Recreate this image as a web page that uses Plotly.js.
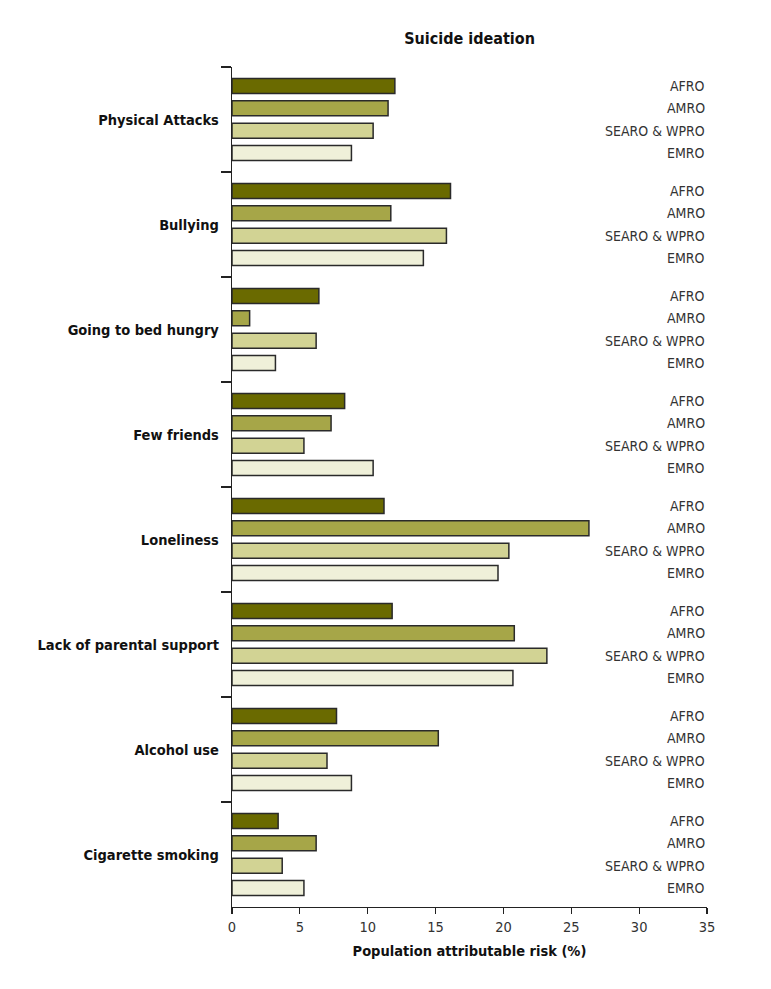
<!DOCTYPE html>
<html>
<head>
<meta charset="utf-8">
<script src="https://cdn.plot.ly/plotly-3.0.1.min.js"></script>
<style>html,body{margin:0;padding:0;background:#fff}#chart{width:771px;height:989px}</style>
</head>
<body>
<div id="chart"></div>
<script>
var categories = ["Physical Attacks", "Bullying", "Going to bed hungry", "Few friends", "Loneliness", "Lack of parental support", "Alcohol use", "Cigarette smoking"];
var regions = ["AFRO", "AMRO", "SEARO & WPRO", "EMRO"];
var afro  = [12.0, 16.1, 6.4, 8.3, 11.2, 11.8, 7.7, 3.4];
var amro  = [11.5, 11.7, 1.3, 7.3, 26.3, 20.8, 15.2, 6.2];
var searo = [10.4, 15.8, 6.2, 5.3, 20.4, 23.2, 7.0, 3.7];
var emro  = [8.8, 14.1, 3.2, 10.4, 19.6, 20.7, 8.8, 5.3];
var xTicks = [0, 5, 10, 15, 20, 25, 30, 35];

var seriesValues = [afro, amro, searo, emro];
var colors = ["#6a6a00", "#a6a648", "#d2d394", "#eff0d9"];
var FONT = "'Liberation Sans Narrow', 'DejaVu Sans Condensed', 'Arial Narrow', sans-serif";

var traces = regions.map(function (r, i) {
  return {
    type: "bar",
    orientation: "h",
    name: r,
    y: categories,
    x: seriesValues[i],
    marker: { color: colors[i], line: { color: "#2a2a2a", width: 1.5 } },
    hoverinfo: "x+y+name"
  };
});

var slot = 22.3;
var annotations = [];
categories.forEach(function (c) {
  regions.forEach(function (r, i) {
    annotations.push({
      xref: "paper", x: 1, xanchor: "right",
      yref: "y", y: c, yanchor: "middle",
      yshift: (1.5 - i) * slot,
      text: r, showarrow: false,
      font: { family: FONT, size: 14, color: "#333" }
    });
  });
});

var layout = {
  width: 771, height: 989,
  margin: { l: 232, r: 64, t: 67, b: 82 },
  paper_bgcolor: "#fff", plot_bgcolor: "#fff",
  showlegend: false,
  barmode: "group",
  bargap: 0.15,
  bargroupgap: 0.33,
  title: {
    text: "<b>Suicide ideation</b>",
    x: 0.5, xref: "paper", xanchor: "center",
    y: 1, yref: "container", yanchor: "top", pad: { t: 33 },
    font: { family: FONT, size: 16, color: "#111" }
  },
  xaxis: {
    range: [0, 35],
    tickvals: xTicks,
    ticktext: xTicks.map(String),
    ticks: "outside", ticklen: 6, tickwidth: 1.2, tickcolor: "#222",
    showline: true, linecolor: "#222", linewidth: 1.2,
    showgrid: false, zeroline: false,
    tickfont: { family: FONT, size: 14.5, color: "#333" },
    title: {
      text: "<b>Population attributable risk (%)</b>",
      font: { family: FONT, size: 14.5, color: "#111" },
      standoff: 12
    }
  },
  yaxis: {
    type: "category",
    autorange: "reversed",
    tickson: "boundaries",
    ticks: "outside", ticklen: 10, tickwidth: 1.2, tickcolor: "#222",
    showline: true, linecolor: "#222", linewidth: 1.2,
    showgrid: false, zeroline: false,
    ticklabelstandoff: 9,
    tickfont: { family: FONT, size: 14.5, color: "#111", weight: "bold" }
  },
  annotations: annotations
};

Plotly.newPlot("chart", traces, layout, { displayModeBar: false, staticPlot: true });
</script>
</body>
</html>
